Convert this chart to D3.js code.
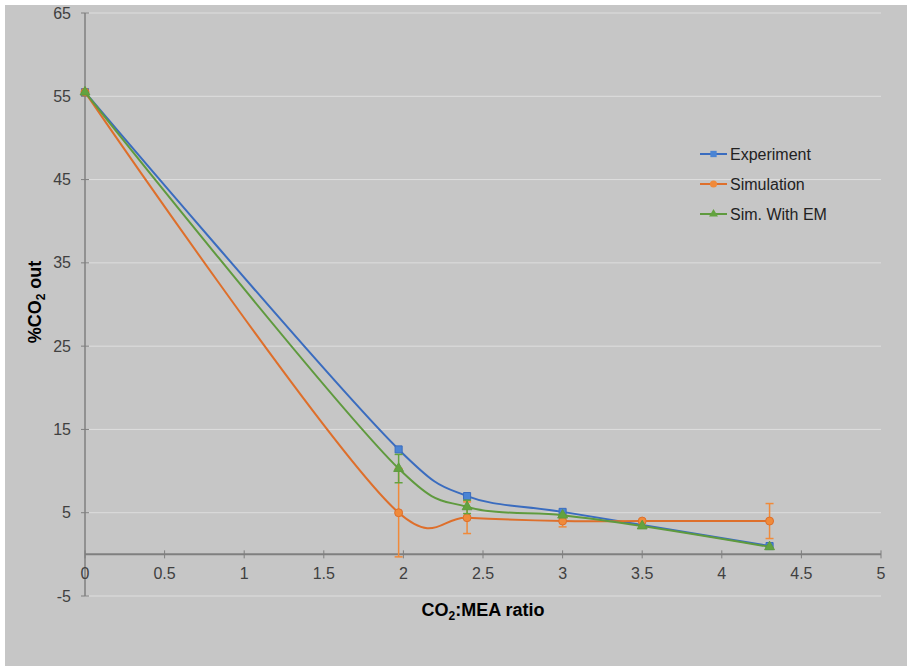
<!DOCTYPE html>
<html>
<head>
<meta charset="utf-8">
<script src="https://cdn.jsdelivr.net/npm/d3@7"></script>
<style>
  body { margin: 0; background: #ffffff; }
  svg { display: block; font-family: "Liberation Sans", Arial, sans-serif; }
</style>
</head>
<body>
<div id="chart"></div>
<script>
// Data
const xTicks = [0, 0.5, 1, 1.5, 2, 2.5, 3, 3.5, 4, 4.5, 5];
const yTicks = [-5, 5, 15, 25, 35, 45, 55, 65];

const expX = [0, 1.97, 2.4, 3, 4.3];
const expY = [55.5, 12.6, 7.0, 5.1, 1.0];

const simX = [0, 1.97, 2.4, 3, 3.5, 4.3];
const simY = [55.5, 5.0, 4.4, 4.0, 4.0, 4.0];
const simErr = [0, 5.3, 1.9, 0.7, 0, 2.1];

const emX = [0, 1.97, 2.4, 3, 3.5, 4.3];
const emY = [55.5, 10.3, 5.7, 4.7, 3.4, 0.9];
const emErr = [0, 1.7, 0.8, 0, 0, 0];

const seriesNames = ["Experiment", "Simulation", "Sim. With EM"];

const width = 907;
const height = 666;

const x = d3.scaleLinear().domain([0, 5]).range([85, 881]);
const y = d3.scaleLinear().domain([-5, 65]).range([596, 13]);

const svg = d3.select("#chart")
  .append("svg")
  .attr("width", width)
  .attr("height", height);

// chart background
svg.append("rect")
  .attr("x", 5)
  .attr("y", 5)
  .attr("width", width - 5)
  .attr("height", height - 5)
  .attr("fill", "#c6c6c6");

// horizontal gridlines
svg.append("g")
  .selectAll("line")
  .data(yTicks)
  .join("line")
  .attr("x1", x(0))
  .attr("x2", x(5))
  .attr("y1", d => y(d))
  .attr("y2", d => y(d))
  .attr("stroke", "#dedede")
  .attr("stroke-width", 1);

// y axis
const yAxis = svg.append("g").attr("transform", `translate(${x(0)},0)`);
yAxis.append("line")
  .attr("y1", y(65)).attr("y2", y(-5))
  .attr("stroke", "#7f7f7f").attr("stroke-width", 1.5);
yAxis.selectAll(".tick")
  .data(yTicks)
  .join("line")
  .attr("x1", -4).attr("x2", 4)
  .attr("y1", d => y(d)).attr("y2", d => y(d))
  .attr("stroke", "#7f7f7f");
yAxis.selectAll("text")
  .data(yTicks)
  .join("text")
  .attr("x", -14)
  .attr("y", d => y(d))
  .attr("dy", "0.35em")
  .attr("text-anchor", "end")
  .attr("font-size", 16)
  .attr("fill", "#404040")
  .text(d => d);

// x axis at y = 0
const xAxis = svg.append("g").attr("transform", `translate(0,${y(0)})`);
xAxis.append("line")
  .attr("x1", x(0)).attr("x2", x(5))
  .attr("stroke", "#7f7f7f").attr("stroke-width", 2);
xAxis.selectAll(".tick")
  .data(xTicks)
  .join("line")
  .attr("x1", d => x(d)).attr("x2", d => x(d))
  .attr("y1", -4).attr("y2", 4)
  .attr("stroke", "#7f7f7f");
xAxis.selectAll("text")
  .data(xTicks)
  .join("text")
  .attr("x", d => x(d))
  .attr("y", 19)
  .attr("dy", "0.35em")
  .attr("text-anchor", "middle")
  .attr("font-size", 16)
  .attr("fill", "#404040")
  .text(d => d);

// axis titles
const xTitle = svg.append("text")
  .attr("x", 483)
  .attr("y", 616)
  .attr("text-anchor", "middle")
  .attr("font-size", 18)
  .attr("font-weight", "bold")
  .attr("fill", "#000");
xTitle.append("tspan").text("CO");
xTitle.append("tspan").attr("font-size", 12).attr("dy", 4).text("2");
xTitle.append("tspan").attr("dy", -4).text(":MEA ratio");

const yTitle = svg.append("text")
  .attr("transform", "translate(41,302) rotate(-90)")
  .attr("text-anchor", "middle")
  .attr("font-size", 18)
  .attr("font-weight", "bold")
  .attr("fill", "#000");
yTitle.append("tspan").text("%CO");
yTitle.append("tspan").attr("font-size", 12).attr("dy", 4).text("2");
yTitle.append("tspan").attr("dy", -4).text(" out");

const line = d3.line()
  .x(d => x(d[0]))
  .y(d => y(d[1]))
  .curve(d3.curveCatmullRom.alpha(0.25));

const series = [
  { name: seriesNames[0], xs: expX, ys: expY, err: null, color: "#3a6cbf", fill: "#4a84d4", marker: d3.symbolSquare },
  { name: seriesNames[1], xs: simX, ys: simY, err: simErr, color: "#de6f2b", fill: "#f08a3a", marker: d3.symbolCircle },
  { name: seriesNames[2], xs: emX, ys: emY, err: emErr, color: "#5f9a3e", fill: "#63a33f", marker: d3.symbolTriangle }
];

series.forEach(s => {
  const pts = s.xs.map((v, i) => [v, s.ys[i]]);

  svg.append("path")
    .datum(pts)
    .attr("d", line)
    .attr("fill", "none")
    .attr("stroke", s.color)
    .attr("stroke-width", 2);

  if (s.err) {
    const bars = pts.map((p, i) => [p[0], p[1], s.err[i]]).filter(d => d[2] > 0);
    const g = svg.append("g").attr("stroke", s.fill).attr("stroke-width", 1.5);
    bars.forEach(d => {
      g.append("line")
        .attr("x1", x(d[0])).attr("x2", x(d[0]))
        .attr("y1", y(d[1] + d[2])).attr("y2", y(d[1] - d[2]));
      [d[1] + d[2], d[1] - d[2]].forEach(v => {
        g.append("line")
          .attr("x1", x(d[0]) - 4).attr("x2", x(d[0]) + 4)
          .attr("y1", y(v)).attr("y2", y(v));
      });
    });
  }

  svg.append("g")
    .selectAll("path")
    .data(pts)
    .join("path")
    .attr("transform", d => `translate(${x(d[0])},${y(d[1])})`)
    .attr("d", d3.symbol().type(s.marker).size(s.marker === d3.symbolTriangle ? 42 : 50))
    .attr("fill", s.fill)
    .attr("stroke", s.color)
    .attr("stroke-width", 1);
});

// legend
const legend = svg.append("g").attr("transform", "translate(700,154)");
series.forEach((s, i) => {
  const row = legend.append("g").attr("transform", `translate(0,${i * 30})`);
  row.append("line")
    .attr("x1", 0).attr("x2", 27)
    .attr("stroke", s.color).attr("stroke-width", 2);
  row.append("path")
    .attr("transform", "translate(13.5,0)")
    .attr("d", d3.symbol().type(s.marker).size(s.marker === d3.symbolTriangle ? 34 : 40))
    .attr("fill", s.fill);
  row.append("text")
    .attr("x", 30)
    .attr("dy", "0.35em")
    .attr("font-size", 16)
    .attr("fill", "#222")
    .text(s.name);
});
</script>
</body>
</html>
